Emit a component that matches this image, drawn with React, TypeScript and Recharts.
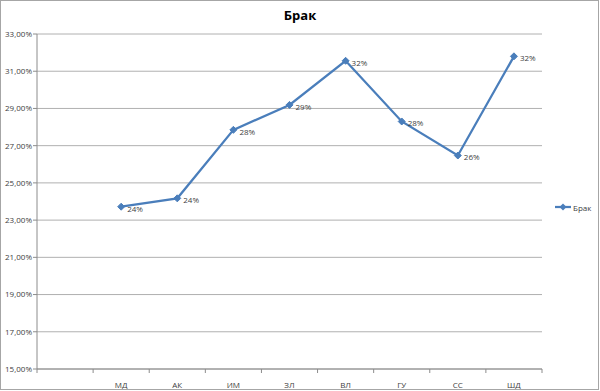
import React from "react";
import {
  LineChart,
  Line,
  XAxis,
  YAxis,
  CartesianGrid,
  LabelList,
} from "recharts";

const categories = ["", "МД", "АК", "ИМ", "ЗЛ", "ВЛ", "ГУ", "СС", "ШД"];
const values: (number | null)[] = [null, 0.2372, 0.2417, 0.2785, 0.2919, 0.3156, 0.283, 0.2647, 0.318];
const yTicks = [0.15, 0.17, 0.19, 0.21, 0.23, 0.25, 0.27, 0.29, 0.31, 0.33];
const boundaryTicks = [0, 1, 2, 3, 4, 5, 6, 7, 8, 9];
const seriesName = "Брак";
const title = "Брак";

const data = categories.map((c, i) => ({ pos: i, idx: i + 0.5, value: values[i] }));

const LINE = "#4a7ebb";
const FONT = "'Open Sans', 'Noto Sans', sans-serif";

const Diamond = (props: any) => {
  const { cx, cy, value } = props;
  if (value == null || cx == null || cy == null) return null;
  const r = 3.5;
  return (
    <path
      d={`M${cx},${cy - r}L${cx + r},${cy}L${cx},${cy + r}L${cx - r},${cy}Z`}
      fill={LINE}
      stroke={LINE}
      strokeWidth={1}
    />
  );
};

const fmtY = (v: number) => (v * 100).toFixed(2).replace(".", ",") + "%";
const fmtLabel = (v: any) => (v == null ? "" : Math.round(v * 100) + "%");

export default function App() {
  return (
    <div style={{ position: "absolute", left: 0, top: 0, width: 600, height: 391, background: "#fff" }}>
      <LineChart
        width={600}
        height={391}
        data={data}
        margin={{ top: 34, right: 58, bottom: 0, left: 0 }}
      >
        <CartesianGrid vertical={false} stroke="#b0b0b0" />
        <XAxis
          xAxisId="a"
          type="number"
          dataKey="idx"
          domain={[0, 9]}
          ticks={boundaryTicks}
          tickFormatter={() => ""}
          height={5}
          tickSize={4}
          stroke="#8c8c8c"
          interval={0}
        />
        <XAxis
          xAxisId="b"
          type="category"
          dataKey="pos"
          scale="band"
          axisLine={false}
          tickLine={false}
          height={17}
          interval={0}
          tickFormatter={(i: number) => categories[i] ?? ""}
          tick={{ fontSize: 8, fill: "#404040", fontFamily: FONT }}
          tickMargin={2}
        />
        <YAxis
          type="number"
          domain={[0.15, 0.33]}
          ticks={yTicks}
          tickFormatter={fmtY}
          width={37}
          tickSize={4}
          tickMargin={1}
          stroke="#8c8c8c"
          interval={0}
          tick={{ fontSize: 8, fill: "#404040", fontFamily: FONT }}
        />
        <Line
          xAxisId="a"
          type="linear"
          dataKey="value"
          name={seriesName}
          stroke={LINE}
          strokeWidth={2.25}
          dot={<Diamond />}
          activeDot={false}
          isAnimationActive={false}
          connectNulls={false}
        >
          <LabelList
            dataKey="value"
            position="right"
            offset={6}
            formatter={fmtLabel}
            style={{ fontSize: 8, fill: "#404040", fontFamily: FONT }}
            dy={2}
          />
        </Line>
      </LineChart>
      <div
        style={{
          position: "absolute",
          left: 0,
          top: 6,
          width: 600,
          textAlign: "center",
          fontFamily: FONT,
          fontWeight: 700,
          fontSize: 13,
          color: "#000",
        }}
      >
        {title}
      </div>
      <div
        style={{
          position: "absolute",
          left: 555,
          top: 201,
          display: "flex",
          alignItems: "center",
          fontFamily: FONT,
          fontSize: 8,
          color: "#404040",
        }}
      >
        <svg width={16} height={12}>
          <line x1={0} y1={6} x2={16} y2={6} stroke={LINE} strokeWidth={2.25} />
          <path d="M8,2.5L11.5,6L8,9.5L4.5,6Z" fill={LINE} />
        </svg>
        <span style={{ marginLeft: 2 }}>{seriesName}</span>
      </div>
      <div
        style={{
          position: "absolute",
          left: 0,
          top: 0,
          width: 599,
          height: 390,
          boxSizing: "border-box",
          border: "1px solid #a6a6a6",
          pointerEvents: "none",
        }}
      />
    </div>
  );
}
